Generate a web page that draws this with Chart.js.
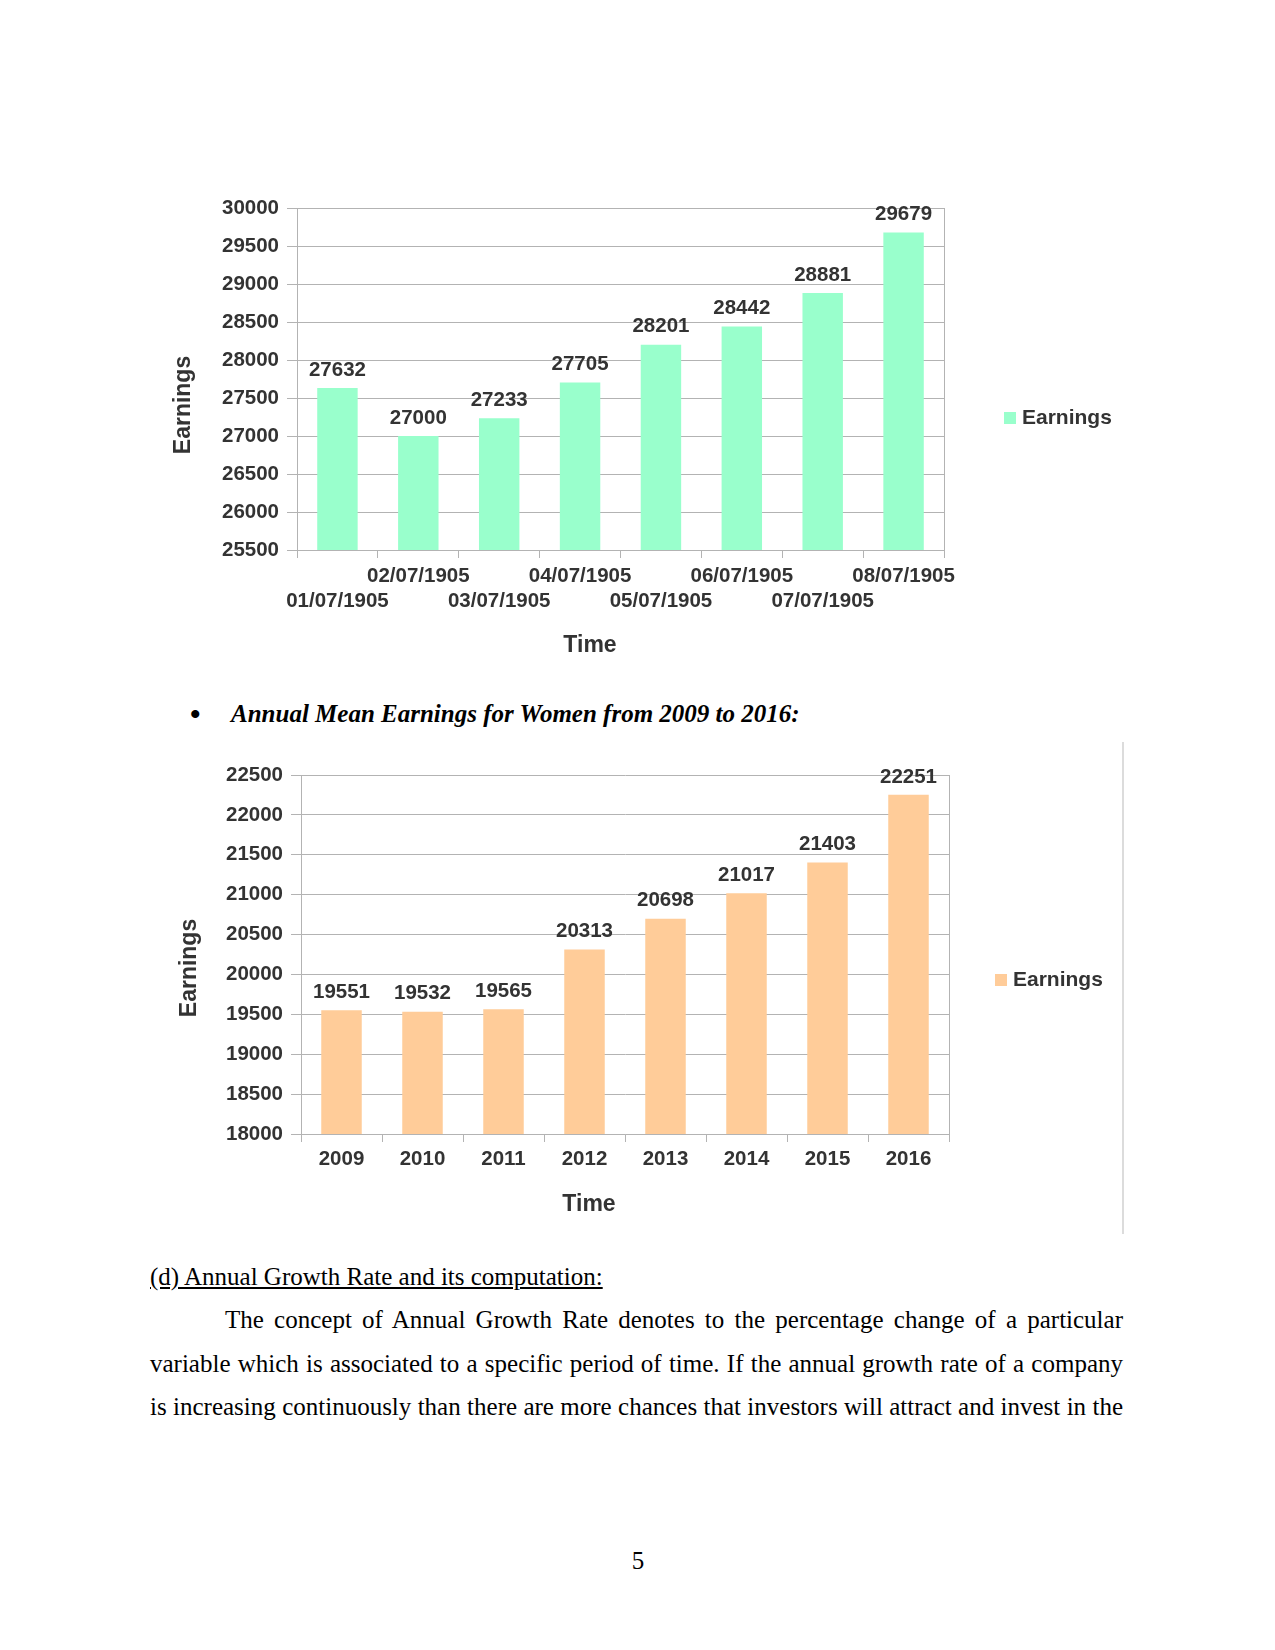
<!DOCTYPE html>
<html>
<head>
<meta charset="utf-8">
<script src="https://cdn.jsdelivr.net/npm/chart.js@4"></script>
<style>
  body { margin: 0; background: #fff; width: 1275px; height: 1650px; position: relative; overflow: hidden; }
  .abs { position: absolute; }
  .serif { font-family: "Liberation Serif", "Times New Roman", serif; font-size: 25px; color: #000; }
  #c1 { left: 150px; top: 180px; }
  #c2 { left: 150px; top: 740px; }
</style>
</head>
<body>
<canvas id="c1" class="abs" width="1000" height="480"></canvas>

<div class="abs serif" style="left:190px; top:694px; line-height:40px; font-size:30px; font-weight:bold;">&#8226;</div>
<div class="abs serif" style="left:231px; top:694px; line-height:40px; font-weight:bold; font-style:italic;">Annual Mean Earnings for Women from 2009 to 2016:</div>

<canvas id="c2" class="abs" width="1000" height="500"></canvas>
<div class="abs" style="left:1122px; top:742px; width:2px; height:492px; background:#dcdcdc;"></div>

<div class="abs serif" style="left:150px; top:1257px; line-height:40px; text-decoration:underline;">(d) Annual Growth Rate and its computation:</div>
<div class="abs serif" style="left:150px; top:1298px; width:973px; line-height:43.7px; text-align:justify; text-align-last:justify; text-indent:75px;">The concept of Annual Growth Rate denotes to the percentage change of a particular variable which is associated to a specific period of time. If the annual growth rate of a company is increasing continuously than there are more chances that investors will attract and invest in the</div>
<div class="abs serif" style="left:618px; top:1541px; width:40px; line-height:40px; text-align:center;">5</div>

<script>
// data chart 1 - earnings by date
const dates = ["01/07/1905", "02/07/1905", "03/07/1905", "04/07/1905", "05/07/1905", "06/07/1905", "07/07/1905", "08/07/1905"];
const earnings1 = [27632, 27000, 27233, 27705, 28201, 28442, 28881, 29679];

// data chart 2 - women 2009-2016
const years = ["2009", "2010", "2011", "2012", "2013", "2014", "2015", "2016"];
const earnings2 = [19551, 19532, 19565, 20313, 20698, 21017, 21403, 22251];

const TXT = "#333333";
const GRID = "#b3b3b3";
const FONT = "'Liberation Sans', Arial, sans-serif";

// label nilai di atas bar + judul sumbu + legend
const extrasPlugin = {
  id: "extras",
  afterDatasetsDraw(chart, args, opts) {
    const ctx = chart.ctx;
    const meta = chart.getDatasetMeta(0);
    ctx.save();
    ctx.fillStyle = TXT;
    ctx.font = "bold 20.5px " + FONT;
    ctx.textAlign = "center";
    ctx.textBaseline = "middle";
    meta.data.forEach((bar, i) => {
      ctx.fillText(chart.data.datasets[0].data[i], bar.x, bar.y - 18);
    });

    // judul sumbu
    ctx.font = "bold 23px " + FONT;
    ctx.fillText("Time", opts.xTitle[0], opts.xTitle[1]);
    ctx.save();
    ctx.translate(opts.yTitle[0], opts.yTitle[1]);
    ctx.rotate(-Math.PI / 2);
    ctx.fillText("Earnings", 0, 0);
    ctx.restore();

    // legend
    ctx.fillStyle = chart.data.datasets[0].backgroundColor;
    ctx.fillRect(opts.legend[0], opts.legend[1] - 6, 12, 12);
    ctx.fillStyle = TXT;
    ctx.font = "bold 21px " + FONT;
    ctx.textAlign = "left";
    ctx.fillText(chart.data.datasets[0].label, opts.legend[0] + 18, opts.legend[1]);
    ctx.restore();
  }
};

function makeChart(id, labels, values, color, cfg) {
  return new Chart(document.getElementById(id), {
    type: "bar",
    data: {
      labels: labels,
      datasets: [{
        label: "Earnings",
        data: values,
        backgroundColor: color,
        categoryPercentage: 1,
        barPercentage: 0.5
      }]
    },
    plugins: [extrasPlugin],
    options: {
      responsive: false,
      animation: false,
      layout: { padding: cfg.padding },
      plugins: {
        legend: { display: false },
        tooltip: { enabled: false },
        extras: cfg.extras
      },
      scales: {
        x: {
          grid: { display: true, drawOnChartArea: false, offset: true, tickLength: 8, color: GRID },
          border: { color: GRID },
          ticks: {
            autoSkip: false, maxRotation: 0, padding: cfg.xPad, color: TXT,
            font: { family: FONT, size: 20.5, weight: "bold", lineHeight: 1.22 }
          },
          afterFit: s => { s.height = cfg.xHeight; }
        },
        y: {
          min: cfg.min, max: cfg.max,
          grid: { color: GRID, tickLength: 10 },
          border: { color: GRID },
          ticks: {
            stepSize: 500, padding: 8, color: TXT,
            font: { family: FONT, size: 20.5, weight: "bold" },
            callback: v => String(v)
          },
          afterFit: s => { s.width = cfg.yWidth; }
        },
        yRight: {
          position: "right",
          min: cfg.min, max: cfg.max,
          grid: { drawOnChartArea: false, drawTicks: false },
          border: { color: GRID },
          ticks: { display: false },
          afterFit: s => { s.width = 0; }
        }
      }
    }
  });
}

// label tanggal dua baris (selang-seling)
const dateLabels = dates.map((d, i) => i % 2 === 0 ? ["", d] : [d, ""]);

makeChart("c1", dateLabels, earnings1, "#99ffcc", {
  min: 25500, max: 30000,
  padding: { left: 0, top: 28, right: 206, bottom: 0 },
  xHeight: 110, yWidth: 147, xPad: 6,
  extras: { xTitle: [440, 466], yTitle: [34, 225], legend: [854, 238] }
});

makeChart("c2", years, earnings2, "#ffcc99", {
  min: 18000, max: 22500,
  padding: { left: 0, top: 35, right: 201, bottom: 0 },
  xHeight: 106, yWidth: 151, xPad: 5,
  extras: { xTitle: [439, 465], yTitle: [40, 228], legend: [845, 240] }
});
</script>
</body>
</html>
